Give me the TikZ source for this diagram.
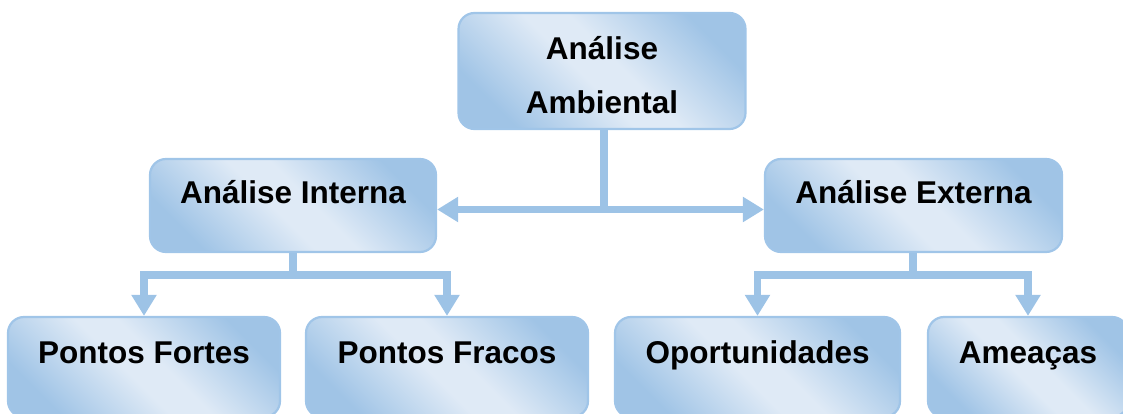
\documentclass[tikz,border=0pt]{standalone}
\usepackage{fontspec}
\setmainfont{Liberation Sans}
\usetikzlibrary{arrows.meta}

\definecolor{bxdark}{RGB}{160,196,230}
\definecolor{bxlight}{RGB}{223,234,246}
\definecolor{bxline}{RGB}{160,197,232}
\definecolor{connblue}{RGB}{157,195,230}

% diagonal reflected gradient used inside the boxes
\pgfdeclarehorizontalshading{boxshade}{100bp}{%
  color(0bp)=(bxdark); color(25bp)=(bxdark); color(46bp)=(bxlight);
  color(54bp)=(bxlight); color(75bp)=(bxdark); color(100bp)=(bxdark)}

\tikzset{
  box/.style={draw=bxline, line width=2.2pt, rounded corners=16pt,
    shading=boxshade, shading angle=45, inner sep=0pt},
  lbl/.style={font=\fontsize{31.5}{54}\selectfont\bfseries, text=black,
    inner sep=0pt, anchor=base, align=center},
  conn/.style={draw=connblue, line width=7.5pt, line join=miter},
  tip/.tip={Triangle[width=24pt,length=21pt]},
}

\begin{document}
\begin{tikzpicture}[x=1pt,y=-1pt]
\useasboundingbox (0,0) rectangle (1123,414);
\begin{scope}
\clip (0,0) rectangle (1123,414);

% boxes
\node[box, minimum width=287pt, minimum height=116pt] (top) at (602,71) {};
\node[box, minimum width=286pt, minimum height=93pt] (int) at (293,205.5) {};
\node[box, minimum width=297pt, minimum height=93pt] (ext) at (913.5,205.5) {};
\node[box, minimum width=272pt, minimum height=100pt] (pf) at (144,367) {};
\node[box, minimum width=282pt, minimum height=100pt] (pfr) at (447,367) {};
\node[box, minimum width=285pt, minimum height=100pt] (op) at (757.5,367) {};
\node[box, minimum width=200pt, minimum height=100pt] (am) at (1028,367) {};

% labels
\node[lbl, anchor=north] (topT) at (602,36) {Análise\\Ambiental};
\node[lbl] (intT) at (293,204) {Análise Interna};
\node[lbl] (extT) at (913.5,204) {Análise Externa};
\node[lbl] (pfT) at (144,363) {Pontos Fortes};
\node[lbl] (pfrT) at (447,363) {Pontos Fracos};
\node[lbl] (opT) at (757.5,363) {Oportunidades};
\node[lbl] (amT) at (1028,363) {Ameaças};

% connectors
\coordinate (hub) at (604,209.5);
\coordinate (ij) at (293,275);
\coordinate (ej) at (913,275);

\draw[conn] (top.south -| hub) -- (hub);
\draw[conn, tip-tip] (int.east |- hub) -- (ext.west |- hub);

\draw[conn] (int.south) -- (ij);
\draw[conn, -tip] (ij) -| (pf.north);
\draw[conn, -tip] (ij) -| (pfr.north);

\draw[conn] (ext.south -| ej) -- (ej);
\draw[conn, -tip] (ej) -| (op.north);
\draw[conn, -tip] (ej) -| (am.north);
\end{scope}
\end{tikzpicture}
\end{document}
